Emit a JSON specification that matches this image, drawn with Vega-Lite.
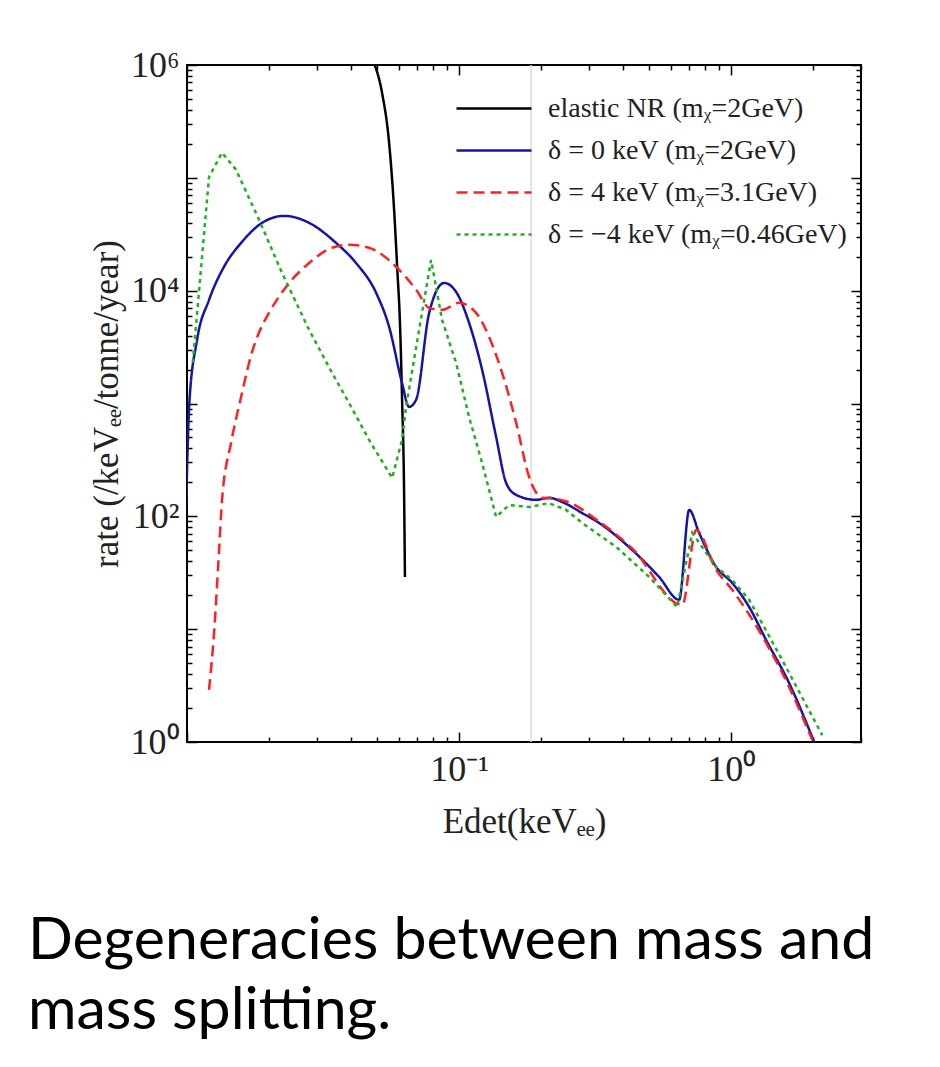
{
  "$schema": "https://vega.github.io/schema/vega-lite/v6.json",
  "width": 674,
  "height": 677,
  "autosize": {"type": "none"},
  "padding": {"left": 187, "top": 65, "right": 79, "bottom": 325},
  "background": "white",
  "config": {"view": {"stroke": "black", "strokeWidth": 2}, "font": "Liberation Serif"},
  "title": {
    "text": ["Degeneracies between mass and", "mass splitting."],
    "orient": "bottom",
    "anchor": "start",
    "frame": "group",
    "font": "Lato",
    "fontSize": 59,
    "fontWeight": "normal",
    "color": "black",
    "lineHeight": 70,
    "dx": -159,
    "offset": 73,
    "baseline": "top"
  },
  "data": {
    "values": [
      {"series": "elastic NR (mᵪ=2GeV)", "E": 0.04849, "rate": 1070000},
      {"series": "elastic NR (mᵪ=2GeV)", "E": 0.0521, "rate": 567000},
      {"series": "elastic NR (mᵪ=2GeV)", "E": 0.05531, "rate": 204000},
      {"series": "elastic NR (mᵪ=2GeV)", "E": 0.0577, "rate": 52000},
      {"series": "elastic NR (mᵪ=2GeV)", "E": 0.0592, "rate": 16300},
      {"series": "elastic NR (mᵪ=2GeV)", "E": 0.0607, "rate": 4780},
      {"series": "elastic NR (mᵪ=2GeV)", "E": 0.0617, "rate": 1140},
      {"series": "elastic NR (mᵪ=2GeV)", "E": 0.06281, "rate": 149},
      {"series": "elastic NR (mᵪ=2GeV)", "E": 0.06324, "rate": 29},

      {"series": "δ = 0 keV (mᵪ=2GeV)", "E": 0.0099, "rate": 93},
      {"series": "δ = 0 keV (mᵪ=2GeV)", "E": 0.0102, "rate": 1010},
      {"series": "δ = 0 keV (mᵪ=2GeV)", "E": 0.01089, "rate": 3660},
      {"series": "δ = 0 keV (mᵪ=2GeV)", "E": 0.01205, "rate": 8280},
      {"series": "δ = 0 keV (mᵪ=2GeV)", "E": 0.01368, "rate": 16300},
      {"series": "δ = 0 keV (mᵪ=2GeV)", "E": 0.01593, "rate": 27100},
      {"series": "δ = 0 keV (mᵪ=2GeV)", "E": 0.01888, "rate": 39900},
      {"series": "δ = 0 keV (mᵪ=2GeV)", "E": 0.02274, "rate": 46000},
      {"series": "δ = 0 keV (mᵪ=2GeV)", "E": 0.02811, "rate": 39900},
      {"series": "δ = 0 keV (mᵪ=2GeV)", "E": 0.0353, "rate": 26500},
      {"series": "δ = 0 keV (mᵪ=2GeV)", "E": 0.0418, "rate": 17600},
      {"series": "δ = 0 keV (mᵪ=2GeV)", "E": 0.04955, "rate": 9560},
      {"series": "δ = 0 keV (mᵪ=2GeV)", "E": 0.05531, "rate": 4780},
      {"series": "δ = 0 keV (mᵪ=2GeV)", "E": 0.0617, "rate": 1520},
      {"series": "δ = 0 keV (mᵪ=2GeV)", "E": 0.06547, "rate": 933},
      {"series": "δ = 0 keV (mᵪ=2GeV)", "E": 0.0695, "rate": 1080},
      {"series": "δ = 0 keV (mᵪ=2GeV)", "E": 0.07762, "rate": 6350},
      {"series": "δ = 0 keV (mᵪ=2GeV)", "E": 0.0881, "rate": 11700},
      {"series": "δ = 0 keV (mᵪ=2GeV)", "E": 0.09749, "rate": 9760},
      {"series": "δ = 0 keV (mᵪ=2GeV)", "E": 0.1088, "rate": 5190},
      {"series": "δ = 0 keV (mᵪ=2GeV)", "E": 0.1215, "rate": 1990},
      {"series": "δ = 0 keV (mᵪ=2GeV)", "E": 0.1368, "rate": 506},
      {"series": "δ = 0 keV (mᵪ=2GeV)", "E": 0.1489, "rate": 198},
      {"series": "δ = 0 keV (mᵪ=2GeV)", "E": 0.1621, "rate": 155},
      {"series": "δ = 0 keV (mᵪ=2GeV)", "E": 0.1919, "rate": 140},
      {"series": "δ = 0 keV (mᵪ=2GeV)", "E": 0.2142, "rate": 146},
      {"series": "δ = 0 keV (mᵪ=2GeV)", "E": 0.2392, "rate": 134},
      {"series": "δ = 0 keV (mᵪ=2GeV)", "E": 0.2833, "rate": 107},
      {"series": "δ = 0 keV (mᵪ=2GeV)", "E": 0.327, "rate": 87.4},
      {"series": "δ = 0 keV (mᵪ=2GeV)", "E": 0.4325, "rate": 50.4},
      {"series": "δ = 0 keV (mᵪ=2GeV)", "E": 0.5435, "rate": 29},
      {"series": "δ = 0 keV (mᵪ=2GeV)", "E": 0.6438, "rate": 18.2},
      {"series": "δ = 0 keV (mᵪ=2GeV)", "E": 0.7011, "rate": 114},
      {"series": "δ = 0 keV (mᵪ=2GeV)", "E": 0.7623, "rate": 71.3},
      {"series": "δ = 0 keV (mᵪ=2GeV)", "E": 0.8807, "rate": 35.6},
      {"series": "δ = 0 keV (mᵪ=2GeV)", "E": 1.0085, "rate": 25.7},
      {"series": "δ = 0 keV (mᵪ=2GeV)", "E": 1.1645, "rate": 15.7},
      {"series": "δ = 0 keV (mᵪ=2GeV)", "E": 1.344, "rate": 8.02},
      {"series": "δ = 0 keV (mᵪ=2GeV)", "E": 1.633, "rate": 3.33},
      {"series": "δ = 0 keV (mᵪ=2GeV)", "E": 2.018, "rate": 1.0},

      {"series": "δ = 4 keV (mᵪ=3.1GeV)", "E": 0.01205, "rate": 2.89},
      {"series": "δ = 4 keV (mᵪ=3.1GeV)", "E": 0.01257, "rate": 9.25},
      {"series": "δ = 4 keV (mᵪ=3.1GeV)", "E": 0.01312, "rate": 50.4},
      {"series": "δ = 4 keV (mᵪ=3.1GeV)", "E": 0.01345, "rate": 140},
      {"series": "δ = 4 keV (mᵪ=3.1GeV)", "E": 0.01452, "rate": 448},
      {"series": "δ = 4 keV (mᵪ=3.1GeV)", "E": 0.0158, "rate": 1140},
      {"series": "δ = 4 keV (mᵪ=3.1GeV)", "E": 0.01734, "rate": 2870},
      {"series": "δ = 4 keV (mᵪ=3.1GeV)", "E": 0.01871, "rate": 4680},
      {"series": "δ = 4 keV (mᵪ=3.1GeV)", "E": 0.02, "rate": 6350},
      {"series": "δ = 4 keV (mᵪ=3.1GeV)", "E": 0.02312, "rate": 10800},
      {"series": "δ = 4 keV (mᵪ=3.1GeV)", "E": 0.02811, "rate": 17600},
      {"series": "δ = 4 keV (mᵪ=3.1GeV)", "E": 0.03412, "rate": 24000},
      {"series": "δ = 4 keV (mᵪ=3.1GeV)", "E": 0.03943, "rate": 25500},
      {"series": "δ = 4 keV (mᵪ=3.1GeV)", "E": 0.04668, "rate": 24000},
      {"series": "δ = 4 keV (mᵪ=3.1GeV)", "E": 0.05866, "rate": 16300},
      {"series": "δ = 4 keV (mᵪ=3.1GeV)", "E": 0.0695, "rate": 10200},
      {"series": "δ = 4 keV (mᵪ=3.1GeV)", "E": 0.07762, "rate": 7040},
      {"series": "δ = 4 keV (mᵪ=3.1GeV)", "E": 0.0866, "rate": 6760},
      {"series": "δ = 4 keV (mᵪ=3.1GeV)", "E": 0.1, "rate": 7800},
      {"series": "δ = 4 keV (mᵪ=3.1GeV)", "E": 0.1155, "rate": 6350},
      {"series": "δ = 4 keV (mᵪ=3.1GeV)", "E": 0.1289, "rate": 3890},
      {"series": "δ = 4 keV (mᵪ=3.1GeV)", "E": 0.1439, "rate": 1870},
      {"series": "δ = 4 keV (mᵪ=3.1GeV)", "E": 0.1621, "rate": 673},
      {"series": "δ = 4 keV (mᵪ=3.1GeV)", "E": 0.1809, "rate": 223},
      {"series": "δ = 4 keV (mᵪ=3.1GeV)", "E": 0.2019, "rate": 146},
      {"series": "δ = 4 keV (mᵪ=3.1GeV)", "E": 0.2274, "rate": 143},
      {"series": "δ = 4 keV (mᵪ=3.1GeV)", "E": 0.2474, "rate": 136},
      {"series": "δ = 4 keV (mᵪ=3.1GeV)", "E": 0.327, "rate": 90},
      {"series": "δ = 4 keV (mᵪ=3.1GeV)", "E": 0.4325, "rate": 52},
      {"series": "δ = 4 keV (mᵪ=3.1GeV)", "E": 0.6607, "rate": 16.4},
      {"series": "δ = 4 keV (mᵪ=3.1GeV)", "E": 0.7436, "rate": 75.7},
      {"series": "δ = 4 keV (mᵪ=3.1GeV)", "E": 0.8807, "rate": 33.5},
      {"series": "δ = 4 keV (mᵪ=3.1GeV)", "E": 1.0085, "rate": 22.3},
      {"series": "δ = 4 keV (mᵪ=3.1GeV)", "E": 1.344, "rate": 7.55},
      {"series": "δ = 4 keV (mᵪ=3.1GeV)", "E": 1.633, "rate": 3.07},
      {"series": "δ = 4 keV (mᵪ=3.1GeV)", "E": 1.987, "rate": 1.04},

      {"series": "δ = −4 keV (mᵪ=0.46GeV)", "E": 0.0105, "rate": 2300},
      {"series": "δ = −4 keV (mᵪ=0.46GeV)", "E": 0.01205, "rate": 102000},
      {"series": "δ = −4 keV (mᵪ=0.46GeV)", "E": 0.01345, "rate": 167000},
      {"series": "δ = −4 keV (mᵪ=0.46GeV)", "E": 0.01514, "rate": 118000},
      {"series": "δ = −4 keV (mᵪ=0.46GeV)", "E": 0.01841, "rate": 42400},
      {"series": "δ = −4 keV (mᵪ=0.46GeV)", "E": 0.02234, "rate": 14400},
      {"series": "δ = −4 keV (mᵪ=0.46GeV)", "E": 0.02811, "rate": 4490},
      {"series": "δ = −4 keV (mᵪ=0.46GeV)", "E": 0.03412, "rate": 1870},
      {"series": "δ = −4 keV (mᵪ=0.46GeV)", "E": 0.03943, "rate": 1010},
      {"series": "δ = −4 keV (mᵪ=0.46GeV)", "E": 0.04668, "rate": 476},
      {"series": "δ = −4 keV (mᵪ=0.46GeV)", "E": 0.05675, "rate": 219},
      {"series": "δ = −4 keV (mᵪ=0.46GeV)", "E": 0.0617, "rate": 476},
      {"series": "δ = −4 keV (mᵪ=0.46GeV)", "E": 0.06384, "rate": 933},
      {"series": "δ = −4 keV (mᵪ=0.46GeV)", "E": 0.07128, "rate": 4490},
      {"series": "δ = −4 keV (mᵪ=0.46GeV)", "E": 0.07889, "rate": 18700},
      {"series": "δ = −4 keV (mᵪ=0.46GeV)", "E": 0.0866, "rate": 5510},
      {"series": "δ = −4 keV (mᵪ=0.46GeV)", "E": 0.09749, "rate": 2290},
      {"series": "δ = −4 keV (mᵪ=0.46GeV)", "E": 0.1088, "rate": 761},
      {"series": "δ = −4 keV (mᵪ=0.46GeV)", "E": 0.1215, "rate": 297},
      {"series": "δ = −4 keV (mᵪ=0.46GeV)", "E": 0.1368, "rate": 98.8},
      {"series": "δ = −4 keV (mᵪ=0.46GeV)", "E": 0.1527, "rate": 126},
      {"series": "δ = −4 keV (mᵪ=0.46GeV)", "E": 0.1809, "rate": 121},
      {"series": "δ = −4 keV (mᵪ=0.46GeV)", "E": 0.2142, "rate": 131},
      {"series": "δ = −4 keV (mᵪ=0.46GeV)", "E": 0.2474, "rate": 114},
      {"series": "δ = −4 keV (mᵪ=0.46GeV)", "E": 0.2833, "rate": 87.4},
      {"series": "δ = −4 keV (mᵪ=0.46GeV)", "E": 0.3779, "rate": 53.6},
      {"series": "δ = −4 keV (mᵪ=0.46GeV)", "E": 0.5, "rate": 29},
      {"series": "δ = −4 keV (mᵪ=0.46GeV)", "E": 0.6329, "rate": 15.7},
      {"series": "δ = −4 keV (mᵪ=0.46GeV)", "E": 0.7194, "rate": 71.3},
      {"series": "δ = −4 keV (mᵪ=0.46GeV)", "E": 0.8807, "rate": 35.6},
      {"series": "δ = −4 keV (mᵪ=0.46GeV)", "E": 1.0085, "rate": 27.3},
      {"series": "δ = −4 keV (mᵪ=0.46GeV)", "E": 1.1645, "rate": 18.2},
      {"series": "δ = −4 keV (mᵪ=0.46GeV)", "E": 1.54, "rate": 5.33},
      {"series": "δ = −4 keV (mᵪ=0.46GeV)", "E": 2.161, "rate": 1.15}
    ]
  },
  "layer": [
    {
      "data": {"values": [{"E": 0.184}]},
      "mark": {"type": "rule", "color": "#dcdcdc", "strokeWidth": 1.5},
      "encoding": {
        "x": {
          "field": "E", "type": "quantitative",
          "scale": {"type": "log", "domain": [0.01, 3], "nice": false},
          "axis": {
            "orient": "top",
            "values": [0.01,0.02,0.03,0.04,0.05,0.06,0.07,0.08,0.09,0.1,0.2,0.3,0.4,0.5,0.6,0.7,0.8,0.9,1,2,3],
            "labels": false, "title": null, "domain": false, "grid": false,
            "tickColor": "black", "tickWidth": 1.5,
            "tickSize": {"condition": {"test": "indexof([0.01,0.1,1], datum.value) >= 0", "value": -10}, "value": -5}
          }
        },
        "y": {
          "datum": 1, "type": "quantitative",
          "scale": {"type": "log", "domain": [1, 1000000], "nice": false},
          "axis": {
            "orient": "right",
            "values": [1,2,3,4,5,6,7,8,9,10,20,30,40,50,60,70,80,90,100,200,300,400,500,600,700,800,900,1000,2000,3000,4000,5000,6000,7000,8000,9000,10000,20000,30000,40000,50000,60000,70000,80000,90000,100000,200000,300000,400000,500000,600000,700000,800000,900000,1000000],
            "labels": false, "title": null, "domain": false, "grid": false,
            "tickColor": "black", "tickWidth": 1.5,
            "tickSize": {"condition": {"test": "indexof([1,10,100,1000,10000,100000,1000000], datum.value) >= 0", "value": -10}, "value": -5}
          }
        },
        "y2": {"datum": 1000000}
      }
    },
    {
      "transform": [{"filter": "indexof(datum.series, '−4') < 0"}],
      "mark": {"type": "line", "clip": true, "strokeWidth": 2.5, "interpolate": "monotone"},
      "encoding": {
        "x": {
          "field": "E", "type": "quantitative",
          "scale": {"type": "log", "domain": [0.01, 3], "nice": false},
          "axis": {
            "orient": "bottom",
            "values": [0.01,0.02,0.03,0.04,0.05,0.06,0.07,0.08,0.09,0.1,0.2,0.3,0.4,0.5,0.6,0.7,0.8,0.9,1,2,3],
            "labelExpr": "datum.value == 0.1 ? '10⁻¹' : datum.value == 1 ? '10⁰' : ''",
            "title": "Edet(keVₑₑ)",
            "domain": false, "grid": false,
            "tickColor": "black", "tickWidth": 1.5,
            "tickSize": {"condition": {"test": "indexof([0.01,0.1,1], datum.value) >= 0", "value": -10}, "value": -5},
            "labelFont": "Liberation Serif", "labelFontSize": 36, "labelColor": "#222", "labelPadding": 20,
            "labelOverlap": false, "labelFlush": false,
            "titleFont": "Liberation Serif", "titleFontSize": 35, "titleFontWeight": "normal", "titleColor": "#222", "titlePadding": 12
          }
        },
        "y": {
          "field": "rate", "type": "quantitative",
          "scale": {"type": "log", "domain": [1, 1000000], "nice": false},
          "axis": {
            "orient": "left",
            "values": [1,2,3,4,5,6,7,8,9,10,20,30,40,50,60,70,80,90,100,200,300,400,500,600,700,800,900,1000,2000,3000,4000,5000,6000,7000,8000,9000,10000,20000,30000,40000,50000,60000,70000,80000,90000,100000,200000,300000,400000,500000,600000,700000,800000,900000,1000000],
            "labelExpr": "datum.value == 1 ? '10⁰' : datum.value == 100 ? '10²' : datum.value == 10000 ? '10⁴' : datum.value == 1000000 ? '10⁶' : ''",
            "title": "rate (/keVₑₑ/tonne/year)",
            "domain": false, "grid": false,
            "tickColor": "black", "tickWidth": 1.5,
            "tickSize": {"condition": {"test": "indexof([1,10,100,1000,10000,100000,1000000], datum.value) >= 0", "value": -10}, "value": -5},
            "labelFont": "Liberation Serif", "labelFontSize": 36, "labelColor": "#222", "labelPadding": 18,
            "labelOverlap": false, "labelFlush": false,
            "titleFont": "Liberation Serif", "titleFontSize": 35, "titleFontWeight": "normal", "titleColor": "#222", "titlePadding": 6
          }
        },
        "color": {
          "field": "series", "type": "nominal",
          "scale": {
            "domain": ["elastic NR (mᵪ=2GeV)", "δ = 0 keV (mᵪ=2GeV)", "δ = 4 keV (mᵪ=3.1GeV)", "δ = −4 keV (mᵪ=0.46GeV)"],
            "range": ["#000000", "#1414a8", "#ff2020", "#22b022"]
          },
          "legend": {
            "orient": "none", "legendX": 268, "legendY": 27, "title": null,
            "symbolType": "M-1,0H4", "symbolSize": 900, "symbolStrokeWidth": 2.5,
            "labelFont": "Liberation Serif", "labelFontSize": 28, "labelColor": "#222", "labelLimit": 500,
            "labelOffset": 60, "rowPadding": 11, "padding": 0
          }
        },
        "strokeDash": {
          "field": "series", "type": "nominal",
          "scale": {
            "domain": ["elastic NR (mᵪ=2GeV)", "δ = 0 keV (mᵪ=2GeV)", "δ = 4 keV (mᵪ=3.1GeV)", "δ = −4 keV (mᵪ=0.46GeV)"],
            "range": [[1, 0], [1, 0], [11, 6], [4, 4]]
          },
          "legend": {
            "orient": "none", "legendX": 268, "legendY": 27, "title": null,
            "symbolType": "M-1,0H4", "symbolSize": 900, "symbolStrokeWidth": 2.5,
            "labelFont": "Liberation Serif", "labelFontSize": 28, "labelColor": "#222", "labelLimit": 500,
            "labelOffset": 60, "rowPadding": 11, "padding": 0
          }
        }
      }
    },
    {
      "transform": [{"filter": "indexof(datum.series, '−4') >= 0"}],
      "mark": {"type": "line", "clip": true, "strokeWidth": 2.5},
      "encoding": {
        "x": {"field": "E", "type": "quantitative", "scale": {"type": "log", "domain": [0.01, 3], "nice": false}, "axis": null},
        "y": {"field": "rate", "type": "quantitative", "scale": {"type": "log", "domain": [1, 1000000], "nice": false}, "axis": null},
        "color": {
          "field": "series", "type": "nominal",
          "scale": {
            "domain": ["elastic NR (mᵪ=2GeV)", "δ = 0 keV (mᵪ=2GeV)", "δ = 4 keV (mᵪ=3.1GeV)", "δ = −4 keV (mᵪ=0.46GeV)"],
            "range": ["#000000", "#1414a8", "#ff2020", "#22b022"]
          },
          "legend": {
            "orient": "none", "legendX": 268, "legendY": 27, "title": null,
            "symbolType": "M-1,0H4", "symbolSize": 900, "symbolStrokeWidth": 2.5,
            "labelFont": "Liberation Serif", "labelFontSize": 28, "labelColor": "#222", "labelLimit": 500,
            "labelOffset": 60, "rowPadding": 11, "padding": 0
          }
        },
        "strokeDash": {
          "field": "series", "type": "nominal",
          "scale": {
            "domain": ["elastic NR (mᵪ=2GeV)", "δ = 0 keV (mᵪ=2GeV)", "δ = 4 keV (mᵪ=3.1GeV)", "δ = −4 keV (mᵪ=0.46GeV)"],
            "range": [[1, 0], [1, 0], [11, 6], [4, 4]]
          },
          "legend": {
            "orient": "none", "legendX": 268, "legendY": 27, "title": null,
            "symbolType": "M-1,0H4", "symbolSize": 900, "symbolStrokeWidth": 2.5,
            "labelFont": "Liberation Serif", "labelFontSize": 28, "labelColor": "#222", "labelLimit": 500,
            "labelOffset": 60, "rowPadding": 11, "padding": 0
          }
        }
      }
    }
  ],
  "resolve": {"axis": {"x": "independent", "y": "independent"}}
}
